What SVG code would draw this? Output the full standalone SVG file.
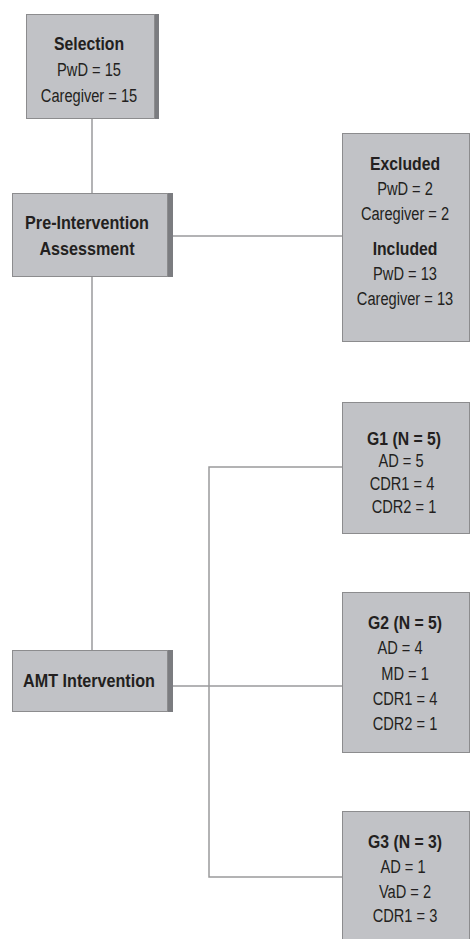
<svg xmlns="http://www.w3.org/2000/svg" width="470" height="939" viewBox="0 0 470 939">
<style>
.box{fill:#c1c2c6;stroke:#8c8c8e;stroke-width:1}
.shd{fill:#7b7c80}
.t{font-family:"Liberation Sans",Arial,sans-serif;font-size:19px;fill:#231f20;text-anchor:middle}
.b{font-weight:bold}
.c{fill:none;stroke:#9a9a9c;stroke-width:1.5}
</style>
<rect width="470" height="939" fill="#ffffff"/>
<g id="connectors">
<path class="c" d="M92 119V193"/>
<path class="c" d="M173 236H342"/>
<path class="c" d="M92 277V650"/>
<path class="c" d="M173 686H342"/>
<path class="c" d="M342 467H209V877H342"/>
</g>
<g id="selection">
<rect class="shd" x="154" y="14" width="5" height="105"/>
<rect class="box" x="26.5" y="14.5" width="128" height="104"/>
<text class="t b" transform="translate(89 50) scale(0.83 1)">Selection</text>
<text class="t" transform="translate(89 76) scale(0.77 1)">PwD = 15</text>
<text class="t" transform="translate(89 102) scale(0.77 1)">Caregiver = 15</text>
</g>
<g id="pre-intervention">
<rect class="shd" x="167" y="193" width="6" height="84"/>
<rect class="box" x="12.5" y="193.5" width="155" height="83"/>
<text class="t b" transform="translate(87 229) scale(0.85 1)">Pre-Intervention</text>
<text class="t b" transform="translate(87 255) scale(0.85 1)">Assessment</text>
</g>
<g id="excluded-included">
<rect class="shd" x="469" y="133" width="6" height="209"/>
<rect class="box" x="342.5" y="133.5" width="127" height="208"/>
<text class="t b" transform="translate(405 170) scale(0.83 1)">Excluded</text>
<text class="t" transform="translate(405 195) scale(0.77 1)">PwD = 2</text>
<text class="t" transform="translate(405 220) scale(0.77 1)">Caregiver = 2</text>
<text class="t b" transform="translate(405 255) scale(0.83 1)">Included</text>
<text class="t" transform="translate(405 280) scale(0.77 1)">PwD = 13</text>
<text class="t" transform="translate(405 305) scale(0.77 1)">Caregiver = 13</text>
</g>
<g id="amt-intervention">
<rect class="shd" x="167" y="650" width="6" height="62"/>
<rect class="box" x="12.5" y="650.5" width="155" height="61"/>
<text class="t b" transform="translate(89 687) scale(0.85 1)">AMT Intervention</text>
</g>
<g id="g1">
<rect class="shd" x="469" y="402" width="6" height="132"/>
<rect class="box" x="342.5" y="402.5" width="127" height="131"/>
<text class="t b" transform="translate(404 445) scale(0.83 1)">G1 (N = 5)</text>
<text class="t" transform="translate(401 467) scale(0.77 1)">AD = 5</text>
<text class="t" transform="translate(402 490) scale(0.77 1)">CDR1 = 4</text>
<text class="t" transform="translate(404 513) scale(0.77 1)">CDR2 = 1</text>
</g>
<g id="g2">
<rect class="shd" x="469" y="592" width="6" height="161"/>
<rect class="box" x="342.5" y="592.5" width="127" height="160"/>
<text class="t b" transform="translate(405 629) scale(0.83 1)">G2 (N = 5)</text>
<text class="t" transform="translate(400 654) scale(0.77 1)">AD = 4</text>
<text class="t" transform="translate(405 680) scale(0.77 1)">MD = 1</text>
<text class="t" transform="translate(405 705) scale(0.77 1)">CDR1 = 4</text>
<text class="t" transform="translate(405 730) scale(0.77 1)">CDR2 = 1</text>
</g>
<g id="g3">
<rect class="shd" x="469" y="811" width="6" height="135"/>
<rect class="box" x="342.5" y="811.5" width="127" height="134"/>
<text class="t b" transform="translate(405 848) scale(0.83 1)">G3 (N = 3)</text>
<text class="t" transform="translate(403 873) scale(0.77 1)">AD = 1</text>
<text class="t" transform="translate(405 898) scale(0.77 1)">VaD = 2</text>
<text class="t" transform="translate(405 922) scale(0.77 1)">CDR1 = 3</text>
</g>
</svg>
